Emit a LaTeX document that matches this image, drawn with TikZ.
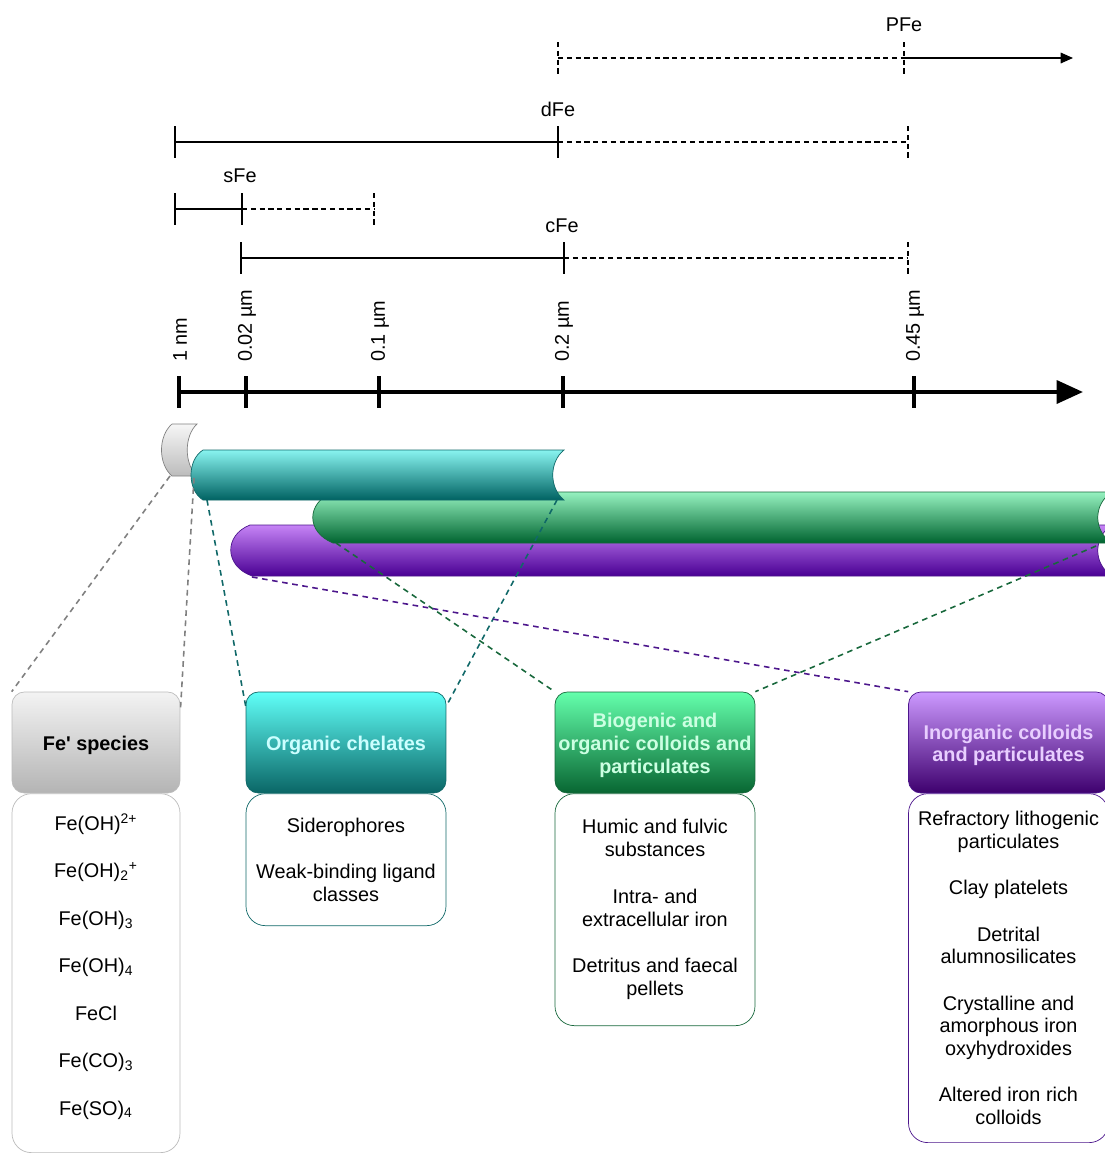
\documentclass[tikz,border=0pt]{standalone}
\usepackage{fontspec}
\setmainfont{Liberation Sans}
\usetikzlibrary{arrows.meta,positioning}
\definecolor{fegray}{RGB}{128,128,128}
\definecolor{feline}{RGB}{188,188,188}
\definecolor{feteal}{RGB}{16,104,104}
\definecolor{fegreen}{RGB}{24,104,60}
\definecolor{fepurple}{RGB}{76,22,140}
\definecolor{fetealtxt}{RGB}{204,255,255}
\definecolor{fegreentxt}{RGB}{204,255,226}
\definecolor{fepurpletxt}{RGB}{232,206,255}

\begin{document}
\begin{tikzpicture}[x=.02cm,y=-.02cm,font=\fontsize{11.3}{13}\selectfont,
    rng/.style={line width=.9pt},
    rngd/.style={rng,dash pattern=on 3pt off 2pt},
    axis/.style={line width=2.3pt},
    link/.style={line width=.9pt,dash pattern=on 3.2pt off 2.6pt},
    head/.style={draw,rounded corners=7pt,minimum width=4cm,minimum height=2.02cm,inner sep=0pt,align=center,font=\fontsize{11.3}{13}\selectfont\bfseries},
    list/.style={draw,fill=white,rounded corners=11pt,minimum width=4cm,inner sep=0pt,align=center,below=0pt of #1}]
    \useasboundingbox (0,0) rectangle (1105,1153);
    \clip (0,0) rectangle (1105,1153);
    \node (pfe) at (904,25) {PFe}; \node (dfe) at (558,109) {dFe};
    \node (sfe) at (240,176) {sFe}; \node (cfe) at (562,226) {cFe};
    \draw[rngd] (558,58)--(904,58); \draw[rng,-{Triangle[length=7pt,width=6pt]}] (904,58)--(1073,58);
    \draw[rng] (175,142)--(558,142); \draw[rngd] (558,142)--(908,142);
    \draw[rng] (175,209)--(242,209); \draw[rngd] (242,209)--(374,209);
    \draw[rng] (241,258)--(564,258); \draw[rngd] (564,258)--(908,258);
    \foreach \x/\y/\s in {558/58/rngd,904/58/rngd,175/142/rng,558/142/rng,908/142/rngd,
      175/209/rng,242/209/rng,374/209/rngd,241/258/rng,564/258/rng,908/258/rngd}
      \draw[\s] (\x,\y-16)--(\x,\y+16);
    \draw[axis,-{Triangle[length=15pt,width=13pt]}] (179,392)--(1083,392);
    \foreach \x/\t in {179/1 nm,246/0.02 µm,379/0.1 µm,563/0.2 µm,914/0.45 µm}{
      \draw[axis] (\x,376)--(\x,408);
      \node[rotate=90,anchor=west,inner sep=0pt] (lbl\x) at (\x+1,362) {\t};
    }
    \path[draw=fepurple,top color={rgb,255:red,198;green,132;blue,246},bottom color={rgb,255:red,74;green,0;blue,148}]
      (250,525)--(1112,525) .. controls (1093,537) and (1093,564) .. (1112,576)--(252,576) .. controls (224,566) and (224,535) .. (250,525)--cycle;
    \path[draw=fegreen,top color={rgb,255:red,150;green,242;blue,192},bottom color={rgb,255:red,0;green,100;blue,48}]
      (333,492)--(1112,492) .. controls (1093,504) and (1093,531) .. (1112,543)--(333,543) .. controls (306,532) and (306,503) .. (333,492)--cycle;
    \path[draw=fegray,top color={rgb,255:red,246;green,246;blue,246},bottom color={rgb,255:red,188;green,188;blue,188}]
      (172,424)--(197,424) .. controls (184,436) and (184,464) .. (197,476)--(172,476) .. controls (158,464) and (158,436) .. (172,424)--cycle;
    \path[draw=feteal,top color={rgb,255:red,136;green,244;blue,240},bottom color={rgb,255:red,0;green,98;blue,98}]
      (203,450)--(564,450) .. controls (549,462) and (549,488) .. (564,500)--(203,500) .. controls (187,490) and (187,460) .. (203,450)--cycle;
    \coordinate (cresl) at (170,476); \coordinate (cresr) at (194,478);
    \coordinate (teall) at (207,500); \coordinate (tealr) at (557,500);
    \coordinate (greenl) at (336,543); \coordinate (greenr) at (1096,546);
    \coordinate (purpl) at (252,577);

    \node[head,minimum width=3.36cm,draw=feline,top color={rgb,255:red,243;green,243;blue,243},bottom color={rgb,255:red,180;green,180;blue,180}] (fehead) at (96,742.5) {\\[-1.5pt]Fe\textquotesingle{} species};
    \node[head,draw=feteal,text=fetealtxt,top color={rgb,255:red,96;green,255;blue,248},bottom color={rgb,255:red,10;green,102;blue,102}] (orghead) at (346,742.5) {\\[-1.5pt]Organic chelates};
    \node[head,draw=fegreen,text=fegreentxt,top color={rgb,255:red,100;green,255;blue,172},bottom color={rgb,255:red,8;green,102;blue,50}] (biohead) at (655,742.5) {\\[-1.5pt]Biogenic and\\organic colloids and\\particulates};
    \node[head,draw=fepurple,text=fepurpletxt,top color={rgb,255:red,204;green,153;blue,255},bottom color={rgb,255:red,62;green,0;blue,110}] (inohead) at (1008.5,742.5) {\\[-1.5pt]Inorganic colloids\\and particulates};

    \node[list=fehead,minimum width=3.36cm,minimum height=7.18cm,draw=feline] (felist) {Fe(OH)\textsuperscript{2+}\\[14pt]Fe(OH)\textsubscript{2}\textsuperscript{+}\\[14pt]Fe(OH)\textsubscript{3}\\[14pt]Fe(OH)\textsubscript{4}\\[14pt]FeCl\\[14pt]Fe(CO)\textsubscript{3}\\[14pt]Fe(SO)\textsubscript{4}\\[-3pt]\mbox{}};
    \node[list=orghead,minimum height=2.64cm,draw=feteal] (orglist) {Siderophores\\[13.3pt]Weak-binding ligand\\classes};
    \node[list=biohead,minimum height=4.64cm,draw=fegreen] (biolist) {Humic and fulvic\\substances\\[13.6pt]Intra- and\\extracellular iron\\[13.6pt]Detritus and faecal\\pellets};
    \node[list=inohead,minimum height=6.98cm,draw=fepurple] (inolist) {Refractory lithogenic\\particulates\\[13.3pt]Clay platelets\\[13.3pt]Detrital\\alumnosilicates\\[13.3pt]Crystalline and\\amorphous iron\\oxyhydroxides\\[13.3pt]Altered iron rich\\colloids};

    \draw[link,draw=fegray] (cresl)--(fehead.north west); \draw[link,draw=fegray] (cresr)--(fehead.20);
    \draw[link,draw=feteal] (teall)--(orghead.160); \draw[link,draw=feteal] (tealr)--(orghead.20);
    \draw[link,draw=fegreen] (greenl)--(biohead.north west); \draw[link,draw=fegreen] (greenr)--(biohead.north east);
    \draw[link,draw=fepurple] (purpl)--(inohead.north west);
  \end{tikzpicture}
\end{document}
